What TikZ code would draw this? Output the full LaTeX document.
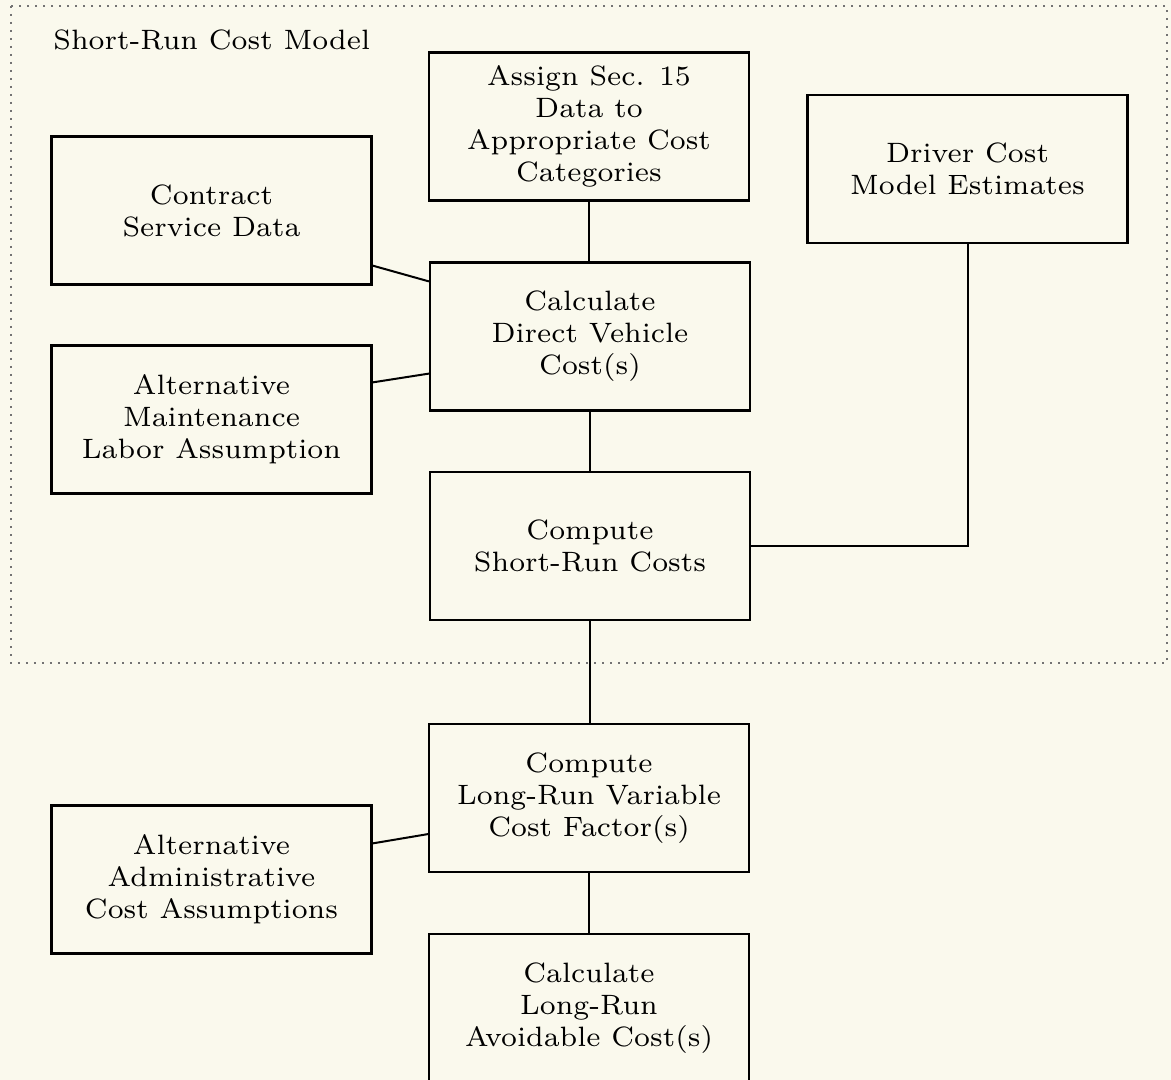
\documentclass[tikz,border=0pt]{standalone}
\usepackage{fontspec}
\newfontfamily\flowfamily{lmroman7-regular.otf}
\newcommand\flowfont{\flowfamily\fontsize{14}{16}\selectfont}
\definecolor{paper}{RGB}{250,249,237}
\begin{document}
\begin{tikzpicture}[x=0.5pt,y=-0.5pt,
  box/.style={draw, line width=1.1pt, minimum width=160pt, minimum height=74pt,
              align=center, inner sep=0pt, font=\flowfont},
  link/.style={line width=1pt},
  frame/.style={draw=black!55, line width=0.9pt, dash pattern=on 0.9pt off 3.1pt}]

% page and clipping
\clip (0,0) rectangle (1171,1080);
\fill[paper] (0,0) rectangle (1171,1080);

% dotted boundary of the short-run part
\draw[frame] (11,6) rectangle (1167,663);
\node[font=\flowfont, anchor=base west, inner sep=0pt] (title) at (53,50) {Short-Run Cost Model};

% process boxes
\node[box] (assign)   at (589,126.5)  {Assign Sec. 15\\Data to\\Appropriate Cost\\Categories};
\node[box] (driver)   at (967.5,169)  {Driver Cost\\Model Estimates};
\node[box] (contract) at (211.5,210.5){Contract\\Service Data};
\node[box] (direct)   at (590,336.5)  {Calculate\\Direct Vehicle\\Cost(s)};
\node[box] (altmaint) at (211.5,419.5){Alternative\\Maintenance\\Labor Assumption};
\node[box] (shortrun) at (590,546)    {Compute\\Short-Run Costs};
\node[box] (variable) at (589,798)    {Compute\\Long-Run Variable\\Cost Factor(s)};
\node[box] (altadmin) at (211.5,879.5){Alternative\\Administrative\\Cost Assumptions};
\node[box] (avoid)    at (589,1008)   {Calculate\\Long-Run\\Avoidable Cost(s)};

% connectors
\draw[link] (assign.south) -- (assign.south |- direct.north);
\draw[link] ([yshift=10pt]contract.south east) -- ([yshift=-10pt]direct.north west);
\draw[link] ([yshift=-19pt]altmaint.north east) -- ([yshift=19pt]direct.south west);
\draw[link] (direct.south) -- (direct.south |- shortrun.north);
\draw[link] (driver.south) |- (shortrun.east);
\draw[link] (shortrun.south) -- (shortrun.south |- variable.north);
\draw[link] ([yshift=-19.5pt]altadmin.north east) -- ([yshift=19.5pt]variable.south west);
\draw[link] (variable.south) -- (variable.south |- avoid.north);
\end{tikzpicture}
\end{document}
